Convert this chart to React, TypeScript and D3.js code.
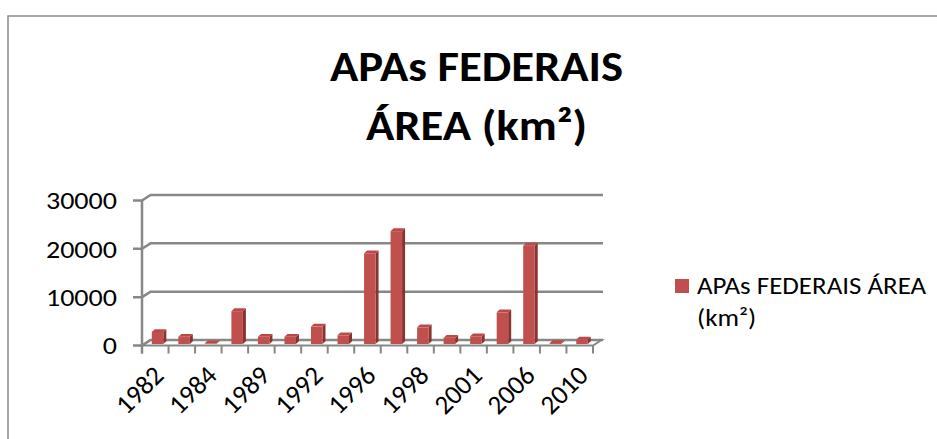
import React from 'react';
import * as d3 from 'd3';

const categories = ['1982', '1983', '1984', '1985', '1989', '1990', '1992', '1993', '1996', '1997', '1998', '2000', '2001', '2002', '2006', '2009', '2010'];
const areaValues = [2500, 1500, 150, 6800, 1500, 1500, 3600, 1800, 18750, 23350, 3450, 1300, 1600, 6550, 20350, 200, 900];
const yTicks = [0, 10000, 20000, 30000];
const titleLines = ['APAs FEDERAIS', 'ÁREA (km²)'];
const legendLines = ['APAs FEDERAIS ÁREA', '(km²)'];

const FONT = 'Carlito, Calibri, Lato, sans-serif';
const DX = 8.5;
const DY = -5.5;
const BAR_T = 0.27;
const SIDE_DX = 3;
const SIDE_DY = -2.8;
const BAR_W = 11.5;
const GRID = '#878787';
const SX = 1.1;

export default function App() {
  const x = d3.scaleBand<string>().domain(categories).range([142, 593]).padding(0);
  const y = d3.scaleLinear().domain([0, 30000]).range([345.5, 200.5]);
  const step = x.step();
  const x0 = x.range()[0];
  const x1 = x.range()[1];
  const base = y(0);

  return (
    <svg width={937} height={439} style={{ position: 'absolute', left: 0, top: 0, background: '#fff' }}>
      <rect x={8} y={16} width={960} height={460} fill="#fff" stroke="#8c8c8c" strokeWidth={1.5} />
      <g fontFamily={FONT} fontWeight="bold" fontSize={42.5} textAnchor="middle" fill="#000">
        {titleLines.map((t, i) => (
          <text key={t} transform={`translate(476.5,${81 + i * 59}) scale(${SX},1)`}>{t}</text>
        ))}
      </g>
      {/* floor */}
      <path
        d={`M${x0},${base} L${x1},${base} L${x1 + DX},${base + DY} L${x0 + DX},${base + DY} Z`}
        fill="#fff"
        stroke={GRID}
        strokeWidth={2}
      />
      {/* gridlines with connectors */}
      {yTicks.map((t) => (
        <path
          key={t}
          d={`M133,${y(t)} L${x0},${y(t)} L${x0 + DX},${y(t) + DY} L${x1 + DX + 1.5},${y(t) + DY}`}
          fill="none"
          stroke={GRID}
          strokeWidth={2.5}
        />
      ))}
      {/* y axis */}
      <line x1={x0} x2={x0} y1={y(30000)} y2={base + 8} stroke={GRID} strokeWidth={2.5} />
      {d3.range(categories.length + 1).map((k) => (
        <line key={k} x1={x0 + k * step} x2={x0 + k * step} y1={base} y2={base + 8} stroke={GRID} strokeWidth={2} />
      ))}
      {/* bars */}
      {categories.map((c, i) => {
        const v = areaValues[i];
        const bx = (x(c) as number) + (step - BAR_W) / 2 + DX * BAR_T;
        const bb = base + DY * BAR_T;
        const top = bb - (base - y(v));
        return (
          <g key={c}>
            <path
              d={`M${bx + BAR_W},${bb} L${bx + BAR_W + SIDE_DX},${bb + SIDE_DY} L${bx + BAR_W + SIDE_DX},${top + SIDE_DY} L${bx + BAR_W},${top} Z`}
              fill="#8a3230"
            />
            <path
              d={`M${bx},${top} L${bx + SIDE_DX},${top + SIDE_DY} L${bx + BAR_W + SIDE_DX},${top + SIDE_DY} L${bx + BAR_W},${top} Z`}
              fill="#b94a47"
            />
            <rect x={bx} y={top} width={BAR_W} height={bb - top} fill="#c0504d" />
          </g>
        );
      })}
      {/* y labels */}
      <g fontFamily={FONT} fontSize={25.5} textAnchor="end" fill="#000">
        {yTicks.map((t) => (
          <text key={t} transform={`translate(117,${y(t)}) scale(${SX},1)`} dy="0.34em">{t}</text>
        ))}
      </g>
      {/* x labels */}
      <g fontFamily={FONT} fontSize={27} textAnchor="end" fill="#000">
        {categories.map((c, i) =>
          i % 2 === 0 ? (
            <text key={c} transform={`translate(${(x(c) as number) + step / 2 + 10},${377}) rotate(-45)`}>{c}</text>
          ) : null
        )}
      </g>
      {/* legend */}
      <rect x={675} y={279} width={14} height={14} fill="#c0504d" />
      <g fontFamily={FONT} fontSize={24.5} fill="#000">
        {legendLines.map((t, i) => (
          <text key={t} transform={`translate(697,${294 + i * 32}) scale(${SX},1)`}>{t}</text>
        ))}
      </g>
    </svg>
  );
}
